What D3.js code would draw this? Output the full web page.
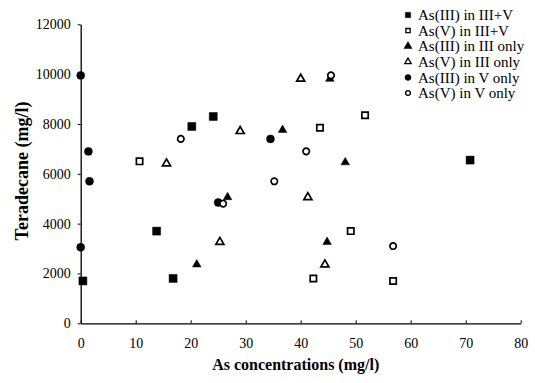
<!DOCTYPE html>
<html>
<head>
<meta charset="utf-8">
<script src="https://cdn.jsdelivr.net/npm/d3@7"></script>
<style>
    body { margin: 0; background: #ffffff; }
    svg { display: block; }
    .tick text { font-family: 'Liberation Serif', 'Times New Roman', serif; font-size: 14px; fill: #000; }
    .axtitle { font-family: 'Liberation Serif', 'Times New Roman', serif; font-weight: bold; fill: #000; }
    .legtext { font-family: 'Liberation Serif', 'Times New Roman', serif; font-size: 15px; fill: #000; }
</style>
</head>
<body>
<div id="chart"></div>
<script>

// series names, in legend order
var seriesNames = ['As(III) in III+V', 'As(V) in III+V', 'As(III) in III only',
                   'As(V) in III only', 'As(III) in V only', 'As(V) in V only'];

// x = As concentration (mg/l), y = teradecane (mg/l)
var as3_mix_x = [0.4, 13.8, 16.8, 20.2, 24.1, 70.8];
var as3_mix_y = [1700, 3700, 1800, 7900, 8300, 6550];

var as5_mix_x = [10.7, 43.5, 51.7, 49.1, 42.3, 56.8];
var as5_mix_y = [6500, 7850, 8350, 3700, 1800, 1700];

var as3_iii_x = [21.1, 26.7, 36.7, 48.1, 44.8, 45.3];
var as3_iii_y = [2400, 5100, 7800, 6500, 3300, 9850];

var as5_iii_x = [15.6, 25.3, 29.0, 40.0, 41.3, 44.4];
var as5_iii_y = [6450, 3300, 7750, 9850, 5100, 2400];

var as3_v_x = [0, 1.4, 1.6, 0, 25.0, 34.5];
var as3_v_y = [9950, 6900, 5700, 3050, 4850, 7400];

var as5_v_x = [18.2, 35.2, 41.0, 45.5, 56.8, 25.9];
var as5_v_y = [7400, 5700, 6900, 9950, 3100, 4800];

var xTicks = [0, 10, 20, 30, 40, 50, 60, 70, 80];
var yTicks = [0, 2000, 4000, 6000, 8000, 10000, 12000];

var xTitle = 'As concentrations (mg/l)';
var yTitle = 'Teradecane (mg/l)';

var chartApp = {

    config: {
        w: 535,
        h: 383,
        left: 80.7,
        right: 520.7,
        top: 24.3,
        bottom: 323.3,
        // marker shape + filled, per series
        shapes: ['square', 'square', 'triangle', 'triangle', 'circle', 'circle'],
        filled: [true, false, true, false, true, false],
        sizes: { square: 64, triangle: 32, circle: 50 },
        openSizes: { square: 40, triangle: 28, circle: 32 },
        legX: 408,
        legY: 15,
        legStep: 15.6,
    },

    symbolType: function(name) {
        if (name === 'square') return d3.symbolSquare;
        if (name === 'triangle') return d3.symbolTriangle;
        return d3.symbolCircle;
    },

    run: function() {
        var c = chartApp.config;

        var svg = d3.select('#chart').append('svg')
            .attr('width', c.w)
            .attr('height', c.h);

        var x = d3.scaleLinear().domain([0, 80]).range([c.left, c.right]);
        var y = d3.scaleLinear().domain([0, 12000]).range([c.bottom, c.top]);

        // axes
        var xAxis = d3.axisBottom(x).tickValues(xTicks)
            .tickSizeInner(-3).tickSizeOuter(0).tickPadding(15);
        var yAxis = d3.axisLeft(y).tickValues(yTicks)
            .tickSizeInner(3).tickSizeOuter(0).tickPadding(7)
            .tickFormat(d3.format('d'));

        var gx = svg.append('g')
            .attr('transform', 'translate(0,' + c.bottom + ')')
            .call(xAxis);
        var gy = svg.append('g')
            .attr('transform', 'translate(' + c.left + ',0)')
            .call(yAxis);

        [gx, gy].forEach(function(g) {
            g.select('.domain').attr('stroke', '#000').attr('stroke-width', 1.3);
            g.selectAll('.tick line').attr('stroke', '#000').attr('stroke-width', 1);
        });

        // axis titles
        svg.append('text')
            .attr('class', 'axtitle')
            .attr('x', (c.left + c.right) / 2 - 5)
            .attr('y', 370)
            .attr('text-anchor', 'middle')
            .style('font-size', '16px')
            .text(xTitle);

        svg.append('text')
            .attr('class', 'axtitle')
            .attr('transform', 'translate(28,171) rotate(-90)')
            .attr('text-anchor', 'middle')
            .style('font-size', '18px')
            .text(yTitle);

        // points
        var allSeries = [
            [as3_mix_x, as3_mix_y],
            [as5_mix_x, as5_mix_y],
            [as3_iii_x, as3_iii_y],
            [as5_iii_x, as5_iii_y],
            [as3_v_x, as3_v_y],
            [as5_v_x, as5_v_y],
        ];

        allSeries.forEach(function(s, si) {
            var shape = c.shapes[si];
            var isFilled = c.filled[si];
            var sym = d3.symbol()
                .type(chartApp.symbolType(shape))
                .size(isFilled ? c.sizes[shape] : c.openSizes[shape]);

            var pts = s[0].map(function(xv, i) { return { x: xv, y: s[1][i] }; });

            svg.append('g')
                .attr('class', 'series' + si)
                .selectAll('path')
                .data(pts)
                .enter()
                .append('path')
                .attr('d', sym)
                .attr('transform', function(d) {
                    var dy = shape === 'triangle' ? 1 : 0;
                    return 'translate(' + x(d.x) + ',' + (y(d.y) + dy) + ')';
                })
                .attr('fill', isFilled ? '#000' : '#fff')
                .attr('stroke', '#000')
                .attr('stroke-width', isFilled ? 0.5 : 1.7);
        });

        // legend
        var leg = svg.append('g');
        seriesNames.forEach(function(name, i) {
            var shape = c.shapes[i];
            var isFilled = c.filled[i];
            var sym = d3.symbol()
                .type(chartApp.symbolType(shape))
                .size(isFilled ? 28 : 18);
            var ly = c.legY + i * c.legStep;

            leg.append('path')
                .attr('d', sym)
                .attr('transform', 'translate(' + c.legX + ',' + ly + ')')
                .attr('fill', isFilled ? '#000' : '#fff')
                .attr('stroke', '#000')
                .attr('stroke-width', isFilled ? 0.5 : 1.3);

            leg.append('text')
                .attr('class', 'legtext')
                .attr('x', c.legX + 10)
                .attr('y', ly)
                .attr('dy', '0.35em')
                .text(name);
        });
    },
};

chartApp.run();
</script>
</body>
</html>
